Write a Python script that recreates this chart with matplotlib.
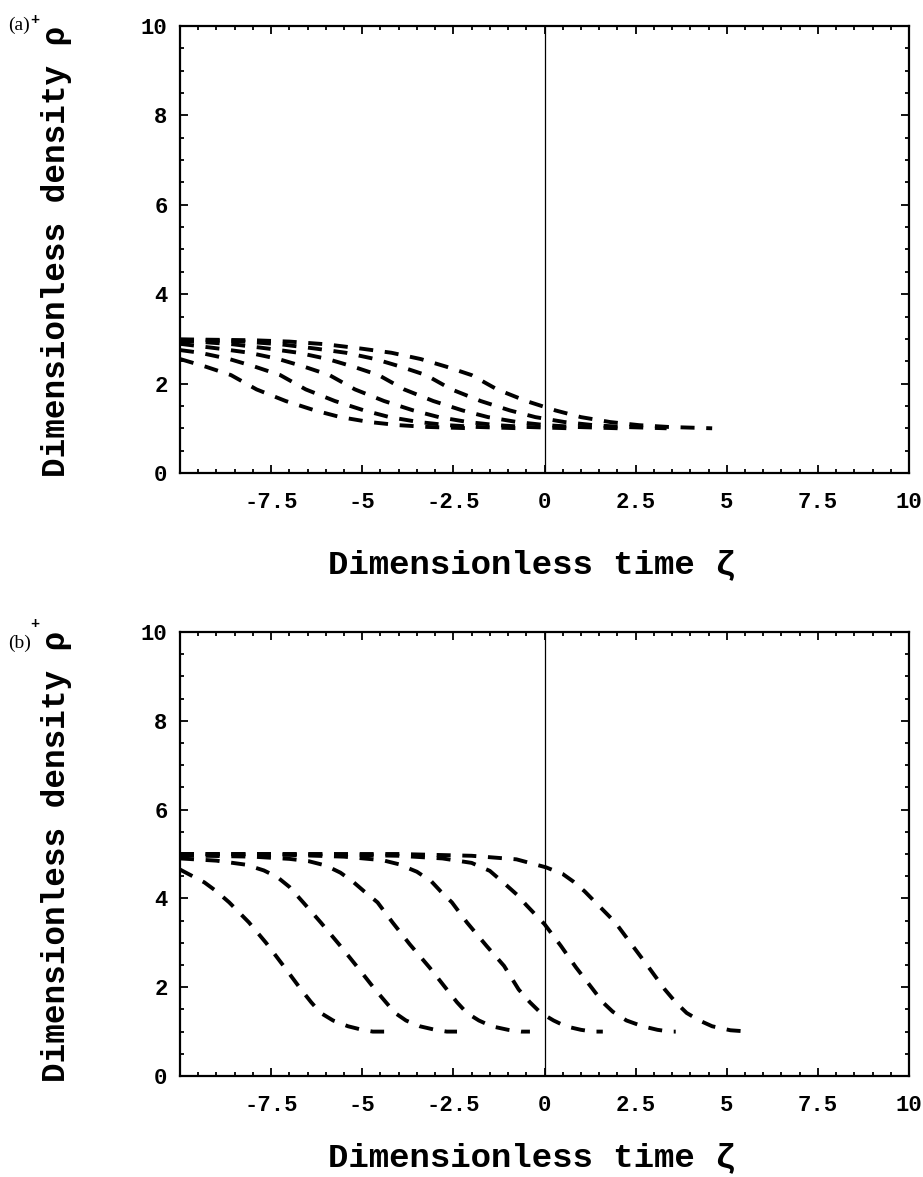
import matplotlib.pyplot as plt
from matplotlib.ticker import MultipleLocator

# panel (a): six density profiles, rho+ from ~3 down to 1
a1_x = [-10, -9.3, -8.6, -7.9, -7.1, -6.3, -5.6, -4.8, -4.0, -3.2, -2.0]
a1_y = [2.55, 2.38, 2.19, 1.87, 1.61, 1.40, 1.25, 1.14, 1.07, 1.03, 1.0]
a2_x = [-10, -9.45, -8.65, -7.95, -7.25, -6.55, -5.75, -4.95, -4.25, -3.45, -2.65, -1.85, -0.65]
a2_y = [2.75, 2.69, 2.55, 2.38, 2.19, 1.87, 1.61, 1.40, 1.25, 1.14, 1.07, 1.03, 1.0]
a3_x = [-10, -8.9, -8.1, -7.3, -6.6, -5.9, -5.2, -4.4, -3.6, -2.9, -2.1, -1.3, -0.5, 0.7]
a3_y = [2.89, 2.78, 2.69, 2.55, 2.38, 2.19, 1.87, 1.61, 1.40, 1.25, 1.14, 1.07, 1.03, 1.0]
a4_x = [-10, -9.55, -8.55, -7.55, -6.75, -5.95, -5.25, -4.55, -3.85, -3.05, -2.25, -1.55,
        -0.75, 0.05, 0.85, 2.05]
a4_y = [2.95, 2.94, 2.88, 2.78, 2.69, 2.55, 2.38, 2.19, 1.87, 1.61, 1.40, 1.25,
        1.14, 1.07, 1.03, 1.0]
a5_x = [-10, -9.25, -8.25, -7.25, -6.25, -5.45, -4.65, -3.95, -3.25, -2.55, -1.75, -0.95,
        -0.25, 0.55, 1.35, 2.15, 3.35]
a5_y = [2.98, 2.97, 2.94, 2.88, 2.78, 2.69, 2.55, 2.38, 2.19, 1.87, 1.61, 1.40,
        1.25, 1.14, 1.07, 1.03, 1.0]
a6_x = [-10, -8.0, -7.0, -6.0, -5.0, -4.2, -3.4, -2.7, -2.0, -1.3, -0.5, 0.3, 1.0,
        1.8, 2.6, 3.4, 4.6]
a6_y = [2.99, 2.97, 2.94, 2.88, 2.78, 2.69, 2.55, 2.38, 2.19, 1.87, 1.61, 1.40, 1.25,
        1.14, 1.07, 1.03, 1.0]

# panel (b): six density profiles, rho+ from 5 down to 1
b1_x = [-10, -9.7, -9.33, -9.0, -8.65, -8.11, -7.64, -7.16, -6.68, -6.4, -6.14, -5.8,
        -5.39, -5.0, -4.71, -4.4]
b1_y = [4.65, 4.52, 4.36, 4.16, 3.91, 3.46, 3.0, 2.48, 1.95, 1.66, 1.42, 1.25,
        1.12, 1.04, 1.0, 1.0]
b2_x = [-10, -9.0, -8.2, -7.7, -7.33, -7.0, -6.62, -6.14, -5.6, -5.12, -4.65, -4.35,
        -4.1, -3.8, -3.42, -3.0, -2.68, -2.4]
b2_y = [4.90, 4.85, 4.76, 4.63, 4.48, 4.26, 3.91, 3.46, 2.93, 2.44, 1.95, 1.66,
        1.42, 1.25, 1.12, 1.04, 1.0, 1.0]
b3_x = [-10, -8.0, -7.0, -6.48, -6.0, -5.6, -5.26, -4.95, -4.58, -4.17, -3.7, -3.15,
        -2.68, -2.4, -2.13, -1.8, -1.45, -1.0, -0.64, -0.4]
b3_y = [4.97, 4.94, 4.89, 4.84, 4.74, 4.58, 4.38, 4.16, 3.91, 3.46, 2.97, 2.44,
        1.95, 1.66, 1.42, 1.25, 1.12, 1.04, 1.0, 1.0]
b4_x = [-10, -7.0, -5.5, -4.44, -4.0, -3.5, -3.1, -2.85, -2.54, -2.13, -1.59, -1.11,
        -0.71, -0.4, -0.1, 0.25, 0.58, 1.0, 1.33, 1.6]
b4_y = [5.0, 4.98, 4.94, 4.86, 4.77, 4.6, 4.38, 4.16, 3.91, 3.46, 2.93, 2.48,
        1.95, 1.66, 1.42, 1.25, 1.12, 1.04, 1.0, 1.0]
b5_x = [-10, -6.0, -4.0, -2.8, -2.0, -1.5, -1.05, -0.75, -0.5, 0.0, 0.45, 0.86,
        1.33, 1.6, 1.87, 2.25, 2.69, 3.1, 3.44, 3.6]
b5_y = [5.0, 4.99, 4.96, 4.9, 4.8, 4.62, 4.3, 4.08, 3.85, 3.42, 2.93, 2.45,
        1.95, 1.66, 1.45, 1.25, 1.12, 1.04, 1.0, 1.0]
b6_x = [-10, -4.0, -2.0, -0.77, 0.04, 0.5, 0.79, 1.1, 1.4, 1.94, 2.42, 2.83,
        3.3, 3.6, 3.9, 4.25, 4.6, 5.1, 5.6]
b6_y = [5.0, 5.0, 4.96, 4.88, 4.7, 4.55, 4.38, 4.16, 3.91, 3.46, 2.93, 2.48,
        1.95, 1.66, 1.42, 1.25, 1.12, 1.03, 1.0]

panel_a = [(a1_x, a1_y), (a2_x, a2_y), (a3_x, a3_y), (a4_x, a4_y), (a5_x, a5_y), (a6_x, a6_y)]
panel_b = [(b1_x, b1_y), (b2_x, b2_y), (b3_x, b3_y), (b4_x, b4_y), (b5_x, b5_y), (b6_x, b6_y)]

xticks = [-7.5, -5, -2.5, 0, 2.5, 5, 7.5, 10]
xlabels = ['-7.5', '-5', '-2.5', '0', '2.5', '5', '7.5', '10']
yticks = [0, 2, 4, 6, 8, 10]

mono = 'Liberation Mono'
W, H = 923, 1177
fig = plt.figure(figsize=(W / 100, H / 100), dpi=100)

# axes boxes in pixels: left, top, right, bottom
boxes = [(180, 26, 909, 473), (180, 632, 909, 1076)]
tags = ['(a)', '(b)']
tag_y = [25, 643]
xlab_base = [573, 1166]

ylabs = []
for box, curves, tag, ty, xb in zip(boxes, [panel_a, panel_b], tags, tag_y, xlab_base):
    l, t, r, b = box
    ax = fig.add_axes([l / W, 1 - b / H, (r - l) / W, (b - t) / H])
    for xs, ys in curves:
        ax.plot(xs, ys, color='black', lw=2.8, linestyle=(0, (3.6, 3.0)),
                dash_capstyle='butt')
    ax.axvline(0, color='black', lw=0.9)
    ax.set_xlim(-10, 10)
    ax.set_ylim(0, 10)
    ax.set_xticks(xticks, xlabels)
    ax.set_yticks(yticks)
    ax.xaxis.set_minor_locator(MultipleLocator(0.5))
    ax.yaxis.set_minor_locator(MultipleLocator(0.5))
    ax.tick_params(which='both', direction='in', top=True, right=True,
                   width=1.3, colors='black')
    ax.tick_params(which='major', length=6)
    ax.tick_params(which='minor', length=3)
    ax.tick_params(axis='x', pad=14)
    ax.tick_params(axis='y', pad=9)
    for lab in ax.get_xticklabels() + ax.get_yticklabels():
        lab.set_fontfamily(mono)
        lab.set_fontweight('bold')
        lab.set_fontsize(16)
    for sp in ax.spines.values():
        sp.set_linewidth(1.6)

    fig.text(532 / W, 1 - xb / H, 'Dimensionless time ζ', ha='center',
             va='baseline', fontfamily=mono, fontweight='bold', fontsize=24.5)
    yl = fig.text(57 / W, 1 - ((t + b) / 2 + 2) / H, 'Dimensionless density ρ',
                  rotation=90, ha='center', va='center', fontfamily=mono,
                  fontweight='bold', fontsize=23.5)
    ylabs.append(yl)
    fig.text(8 / W, 1 - ty / H, tag, ha='left', va='center',
             fontfamily='Liberation Serif', fontsize=14)

# small "+" on rho, placed just past the end of each rotated label
renderer = fig.canvas.get_renderer()
for yl in ylabs:
    bb = yl.get_window_extent(renderer)
    fig.text(35 / W, (bb.y1 + 6) / H, '+', ha='center', va='center',
             fontfamily=mono, fontweight='bold', fontsize=11)

fig.savefig('out.png', dpi=100)
